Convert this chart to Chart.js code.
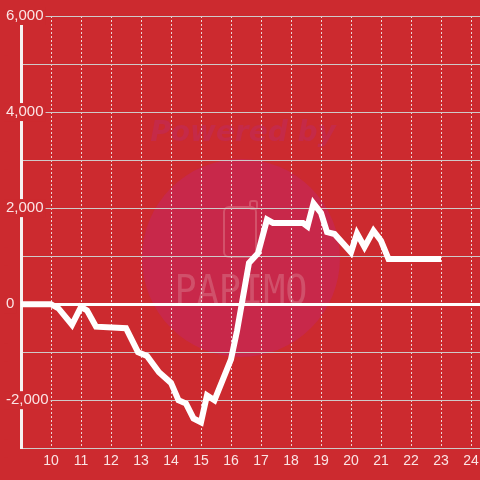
<!DOCTYPE html>
<html>
<head>
<meta charset="utf-8">
<script src="https://cdn.jsdelivr.net/npm/chart.js@4"></script>
<style>
  html, body { margin: 0; padding: 0; background: #cc2a2f; overflow: hidden; }
  #wrap { position: relative; width: 520px; height: 480px; }
</style>
</head>
<body>
<div id="wrap"><canvas id="chart"></canvas></div>
<script>
// ── data ──
var hours = [9, 10, 10.25, 10.7, 11, 11.2, 11.5, 12.5, 12.9, 13.2, 13.6, 14,
             14.25, 14.5, 14.75, 15, 15.2, 15.45, 16, 16.2, 16.6, 16.9, 17.2,
             17.4, 18.4, 18.55, 18.75, 19, 19.2, 19.45, 20, 20.2, 20.45, 20.75,
             21, 21.25, 23];
var balance = [0, 0, -90, -430, -60, -130, -470, -500, -1000, -1080, -1420, -1640,
               -2000, -2070, -2380, -2460, -1900, -2000, -1150, -560, 860, 1060, 1760,
               1690, 1690, 1620, 2100, 1900, 1500, 1460, 1080, 1470, 1190, 1530,
               1320, 940, 940];
var xTickLabels = [10, 11, 12, 13, 14, 15, 16, 17, 18, 19, 20, 21, 22, 23, 24];
var yTickLabels = [6000, 4000, 2000, 0, -2000];

var BG = '#cc2a2f';
var LABEL = 'rgba(255,244,244,0.92)';

// Watermark ("Powered by" + PAPIMO logo) painted under the grid
var watermark = {
  id: 'watermark',
  beforeDraw: function(chart) {
    var ctx = chart.ctx;
    ctx.save();
    ctx.fillStyle = BG;
    ctx.fillRect(0, 0, chart.width, chart.height);

    ctx.fillStyle = '#c8284a';
    ctx.beginPath();
    ctx.arc(241, 258, 99, 0, Math.PI * 2);
    ctx.fill();

    ctx.fillStyle = '#c52a48';
    ctx.font = 'italic bold 28px "DejaVu Sans"';
    ctx.textAlign = 'center';
    ctx.textBaseline = 'alphabetic';
    ctx.fillText('Powered by', 243, 141);

    ctx.strokeStyle = '#d3526a';
    ctx.lineWidth = 2;
    ctx.beginPath();
    ctx.roundRect(224, 207, 32, 50, 5);
    ctx.stroke();
    ctx.beginPath();
    ctx.roundRect(250, 201, 7, 8, 2);
    ctx.stroke();

    // thin stroked lettering for the logo word
    ctx.strokeStyle = '#d3526a';
    ctx.lineWidth = 2.5;
    ctx.translate(241, 304);
    ctx.scale(0.92, 1);
    ctx.font = '200 40px "DejaVu Sans Mono"';
    ctx.fillStyle = '#d0506a';
    ctx.fillText('PAPIMO', 0, 0);
    ctx.restore();
  }
};

var points = hours.map(function(h, i){ return {x: h, y: balance[i]}; });

new Chart(document.getElementById('chart'), {
  type: 'line',
  data: {
    datasets: [{
      data: points,
      borderColor: '#ffffff',
      borderWidth: 6,
      pointRadius: 0,
      fill: false,
      tension: 0
    }]
  },
  options: {
    responsive: true,
    maintainAspectRatio: false,
    animation: false,
    layout: { padding: { left: 21, right: 19, top: 16, bottom: 5 } },
    plugins: { legend: { display: false }, tooltip: { enabled: false } },
    scales: {
      x: {
        type: 'linear',
        min: 9,
        max: 25,
        grid: { color: 'rgba(240,232,232,0.9)', lineWidth: 1, drawTicks: false },
        border: { display: false, dash: [2, 2] },
        ticks: {
          stepSize: 1,
          autoSkip: false,
          maxRotation: 0,
          padding: 5,
          color: LABEL,
          font: { family: '"Liberation Sans", Arial, sans-serif', size: 14 },
          callback: function(v){ return xTickLabels.indexOf(v) !== -1 ? String(v) : ''; }
        }
      },
      y: {
        min: -3000,
        max: 6000,
        grid: {
          color: function(c){ return c.tick && c.tick.value === 0 ? '#ffffff' : '#cfc9c9'; },
          lineWidth: function(c){ return c.tick && c.tick.value === 0 ? 3 : 1; },
          drawTicks: true,
          tickLength: 30,
          tickColor: 'rgba(0,0,0,0)'
        },
        border: { display: true, color: '#f6f2f2', width: 3 },
        ticks: {
          stepSize: 1000,
          mirror: true,
          padding: -15,
          crossAlign: 'near',
          color: LABEL,
          font: { family: '"Liberation Sans", Arial, sans-serif', size: 15 },
          showLabelBackdrop: true,
          backdropColor: BG,
          backdropPadding: { x: 2, y: 0 },
          callback: function(v){
            return yTickLabels.indexOf(v) !== -1 ? v.toLocaleString('en-US') : '';
          }
        }
      }
    }
  },
  plugins: [watermark]
});
</script>
</body>
</html>
